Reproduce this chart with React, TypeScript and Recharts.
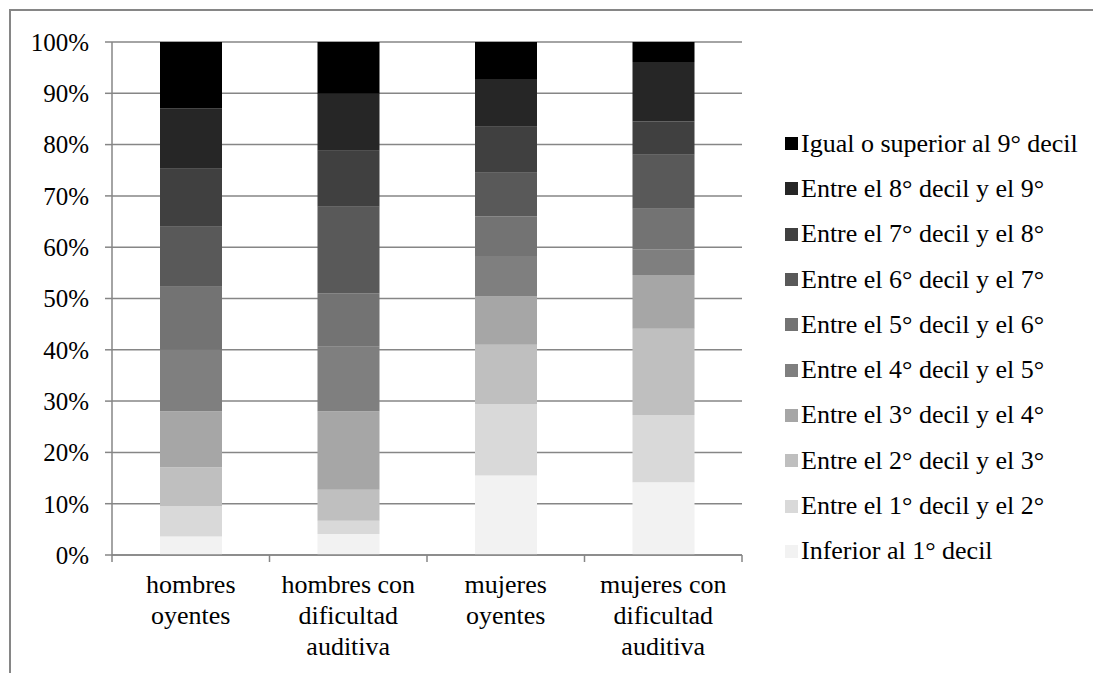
import { BarChart, Bar, XAxis, YAxis, CartesianGrid, Legend } from 'recharts';

const groups = [
  ['hombres', 'oyentes'],
  ['hombres con', 'dificultad', 'auditiva'],
  ['mujeres', 'oyentes'],
  ['mujeres con', 'dificultad', 'auditiva'],
];

const seriesNames = [
  'Inferior al 1° decil',
  'Entre el 1° decil y el 2°',
  'Entre el 2° decil y el 3°',
  'Entre el 3° decil y el 4°',
  'Entre el 4° decil y el 5°',
  'Entre el 5° decil y el 6°',
  'Entre el 6° decil y el 7°',
  'Entre el 7° decil y el 8°',
  'Entre el 8° decil y el 9°',
  'Igual o superior al 9° decil',
];

const seriesColors = [
  '#f2f2f2', '#d9d9d9', '#bfbfbf', '#a6a6a6', '#7f7f7f',
  '#737373', '#595959', '#404040', '#262626', '#000000',
];

// share (%) of each group in every decil band, bottom to top
const inferior1 = [3.6, 4.1, 15.5, 14.2];
const decil1a2 = [5.9, 2.6, 13.9, 13.1];
const decil2a3 = [7.6, 6.0, 11.6, 16.8];
const decil3a4 = [10.9, 15.3, 9.4, 10.5];
const decil4a5 = [12.0, 12.6, 7.9, 5.0];
const decil5a6 = [12.3, 10.4, 7.7, 7.9];
const decil6a7 = [11.7, 16.9, 8.5, 10.5];
const decil7a8 = [11.3, 10.9, 9.0, 6.5];
const decil8a9 = [11.8, 11.1, 9.3, 11.6];
const superior9 = [12.9, 10.1, 7.2, 3.9];

const yTicks = [0, 10, 20, 30, 40, 50, 60, 70, 80, 90, 100];

const series = [
  inferior1, decil1a2, decil2a3, decil3a4, decil4a5,
  decil5a6, decil6a7, decil7a8, decil8a9, superior9,
];

const data = groups.map((g, i) => {
  const row: Record<string, any> = { name: g.join(' ') };
  series.forEach((s, k) => {
    row['s' + k] = s[i];
  });
  return row;
});

const FONT = "'Liberation Serif', 'Times New Roman', serif";
const GRAY = '#868686';
const BAND = 157.5;

const GroupTick = (props: any) => {
  const { x, y, index } = props;
  const lines = groups[index] || [];
  const axisY = y - 8;
  const left = x - BAND / 2;
  return (
    <g>
      <line x1={left} y1={axisY} x2={left} y2={axisY + 7} stroke={GRAY} strokeWidth={1.5} />
      {index === groups.length - 1 && (
        <line x1={x + BAND / 2} y1={axisY} x2={x + BAND / 2} y2={axisY + 7} stroke={GRAY} strokeWidth={1.5} />
      )}
      <text x={x} y={y} textAnchor="middle" fontFamily={FONT} fontSize={26} fill="#000">
        {lines.map((l, i) => (
          <tspan key={i} x={x} dy={i === 0 ? 30 : 31}>{l}</tspan>
        ))}
      </text>
    </g>
  );
};

const LegendList = () => {
  const items = seriesNames.map((n, i) => ({ n, c: seriesColors[i] })).reverse();
  return (
    <div style={{ fontFamily: FONT, fontSize: 26, color: '#000' }}>
      {items.map((it) => (
        <div key={it.n} style={{ height: 45.3, display: 'flex', alignItems: 'center', whiteSpace: 'nowrap' }}>
          <span style={{ width: 13, height: 13, background: it.c, display: 'inline-block', marginRight: 3 }} />
          <span>{it.n}</span>
        </div>
      ))}
    </div>
  );
};

export default function App() {
  return (
    <div style={{ position: 'relative', width: 1093, height: 665, overflow: 'hidden', background: '#fff' }}>
      <div
        style={{
          position: 'absolute', left: 1, top: 1, width: 1200, height: 800,
          borderLeft: `2px solid ${GRAY}`, borderTop: `2px solid ${GRAY}`,
        }}
      />
      <BarChart
        width={1093}
        height={665}
        data={data}
        margin={{ top: 34, right: 359, bottom: 0, left: 0 }}
        style={{ position: 'absolute', left: 0, top: 0 }}
      >
        <CartesianGrid horizontal vertical={false} stroke={GRAY} strokeWidth={1.5} />
        <XAxis
          dataKey="name"
          height={118}
          axisLine={{ stroke: GRAY, strokeWidth: 1.5 }}
          tickLine={false}
          interval={0}
          tick={<GroupTick />}
        />
        <YAxis
          width={104}
          domain={[0, 100]}
          ticks={yTicks}
          interval={0}
          tickFormatter={(v: number) => `${v}%`}
          axisLine={{ stroke: GRAY, strokeWidth: 1.5 }}
          tickLine={{ stroke: GRAY, strokeWidth: 1.5 }}
          tickSize={7}
          tickMargin={16}
          tick={{ fontFamily: FONT, fontSize: 25, fill: '#000' }}
        />
        <Legend
          layout="vertical"
          align="center"
          verticalAlign="middle"
          content={<LegendList />}
          wrapperStyle={{ left: 777, top: 113, width: 320 }}
        />
        {seriesNames.map((n, k) => (
          <Bar
            key={n}
            dataKey={'s' + k}
            name={n}
            stackId="a"
            fill={seriesColors[k]}
            barSize={62}
            isAnimationActive={false}
          />
        ))}
      </BarChart>
    </div>
  );
}
